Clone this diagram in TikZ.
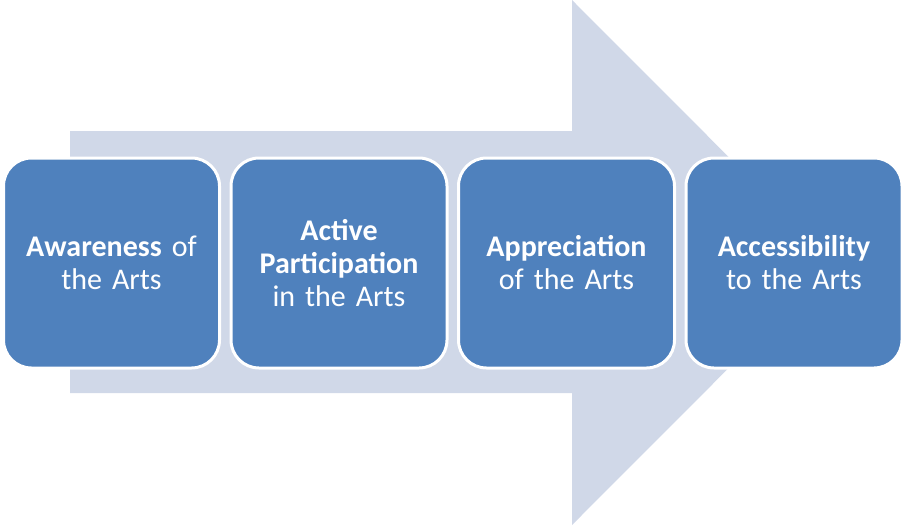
\documentclass[tikz,border=0pt]{standalone}
\usepackage{fontspec}
\setmainfont{Carlito}
\definecolor{arrowfill}{HTML}{D0D8E8}
\definecolor{boxfill}{HTML}{4F81BD}
\begin{document}
\begin{tikzpicture}[x=1pt,y=-1pt,font=\fontsize{30}{33}\selectfont,
stage/.style={fill=boxfill,draw=white,line width=3pt,rounded corners=28pt,minimum width=216pt,minimum height=210pt,inner sep=0pt,text width=200pt,align=center,text=white}]
\useasboundingbox(0,0)rectangle(904,525);
\coordinate(A)at(70,131);\coordinate(B)at(572,131);\coordinate(C)at(572,0);\coordinate(D)at(834,262.5);
\coordinate(E)at(572,525);\coordinate(F)at(572,393);\coordinate(G)at(70,393);
\fill[arrowfill](A)--(B)--(C)--(D)--(E)--(F)--(G)--cycle;
\foreach\n/\x/\t in{aware/111.5/{\textbf{Awareness} of\\the Arts},active/339/{\textbf{Active}\\\textbf{Participation}\\in the Arts},
  apprec/566.5/{\textbf{Appreciation}\\of the Arts},access/794/{\textbf{Accessibility}\\to the Arts}}{\node[stage](\n)at(\x,263){\t};}
\end{tikzpicture}
\end{document}
